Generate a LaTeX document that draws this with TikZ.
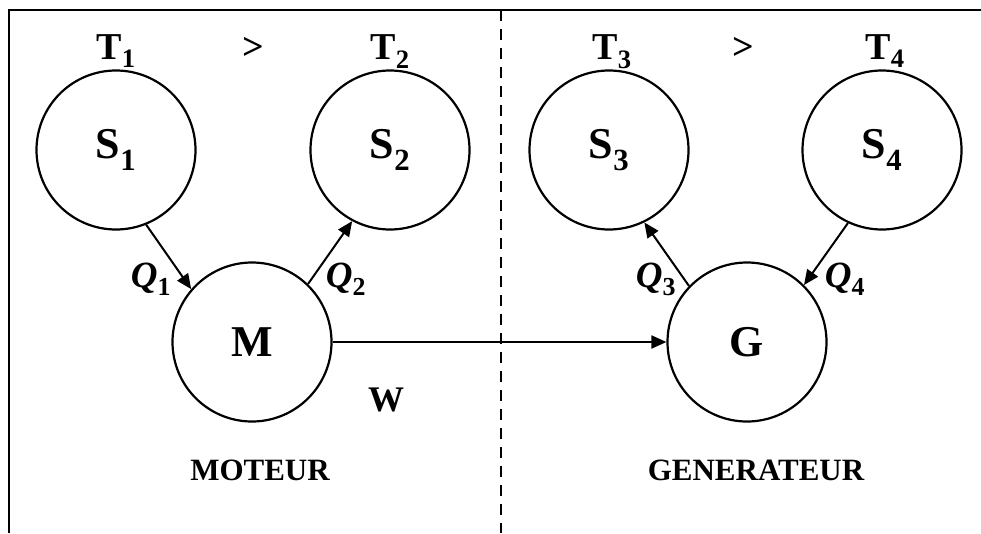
\documentclass[tikz,border=0pt]{standalone}
\usepackage{fontspec}
\setmainfont{Liberation Serif}
\usepackage{tikz}
\usetikzlibrary{arrows.meta,positioning}
\tikzset{
  res/.style={draw, circle, line width=2.2pt, minimum size=159pt, inner sep=0pt,
    font=\fontsize{44}{48}\selectfont\bfseries},
  arr/.style={-{Triangle[length=15pt, width=13pt]}, line width=2pt},
}
\newcommand{\lblfont}[1]{\fontsize{#1}{#1}\selectfont\bfseries}

\begin{document}
\begin{tikzpicture}[x=1pt, y=-1pt,
  temp/.style={anchor=base, font=\lblfont{38}},
  heat/.style={anchor=base, font=\lblfont{37}},
  part/.style={anchor=base, font=\lblfont{31}}]
  \useasboundingbox (0,0) rectangle (981,533);
  % frame and separation
  \coordinate (fbl) at (9,533);
  \coordinate (ftl) at (9,10);
  \coordinate (ftr) at (981,10);
  \coordinate (sept) at (501,10);
  \coordinate (sepb) at (501,533);
  \draw[line width=2.8pt] (fbl) -- (ftl) -- (ftr);
  \draw[line width=2.6pt, dash pattern=on 11pt off 8pt] (sept) -- (sepb);
  % sources
  \node[res] (S1) at (116,150) {S\textsubscript{1}};
  \node[res] (S2) at (390,150) {S\textsubscript{2}};
  \node[res] (S3) at (609,150) {S\textsubscript{3}};
  \node[res] (S4) at (882,150) {S\textsubscript{4}};
  \node[res] (M) at (252,342) {M};
  \node[res] (G) at (747,342) {G};
  % temperatures
  \node[temp] (T1) at (116,59) {T\textsubscript{1}};
  \node[temp] (gt1) at (253,59) {>};
  \node[temp] (T2) at (390,59) {T\textsubscript{2}};
  \node[temp] (T3) at (612,59) {T\textsubscript{3}};
  \node[temp] (gt2) at (743,59) {>};
  \node[temp] (T4) at (885,59) {T\textsubscript{4}};
  % heat flows
  \draw[arr] (S1.-68) -- (M.139);
  \draw[arr] (M.46) -- (S2.-118);
  \draw[arr] (G.136) -- (S3.-64);
  \draw[arr] (S4.-115) -- (G.45);
  \draw[arr] (M.east) -- (G.west);
  \node[heat] (Q1) at (151,287) {\textit{Q}\textsubscript{1}};
  \node[heat] (Q2) at (346,287) {\textit{Q}\textsubscript{2}};
  \node[heat] (Q3) at (656,287) {\textit{Q}\textsubscript{3}};
  \node[heat] (Q4) at (845,287) {\textit{Q}\textsubscript{4}};
  \node[part, font=\lblfont{36}] (W) at (386,411) {W};
  \node[part] (mot) at (260,480) {MOTEUR};
  \node[part] (gen) at (756,480) {GENERATEUR};
\end{tikzpicture}
\end{document}
